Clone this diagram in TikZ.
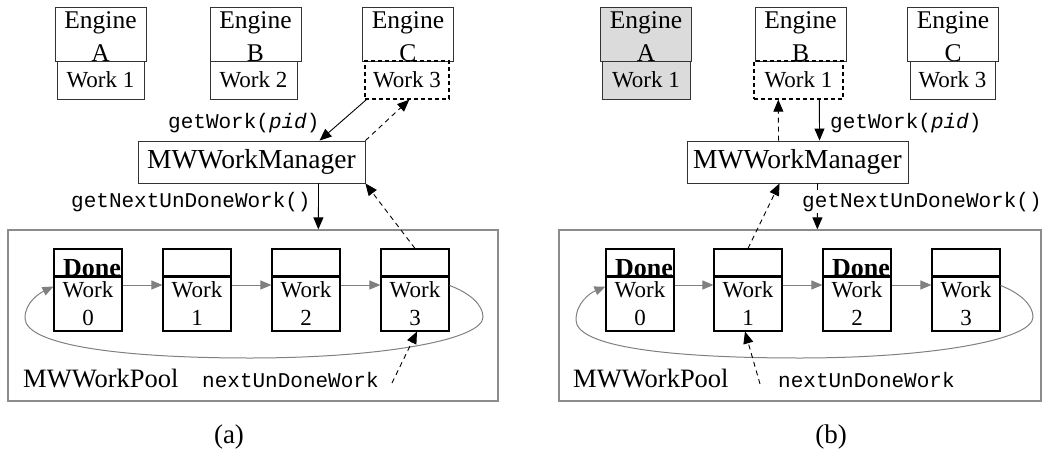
\documentclass[tikz,border=0pt]{standalone}
\usepackage{fontspec}
\setmainfont{Liberation Serif}
\setmonofont{Liberation Mono}
\usetikzlibrary{arrows.meta}
\tikzset{
 boxstyle/.style={draw=black!80, line width=0.9pt, inner sep=0pt, rectangle},
 engbox/.style={boxstyle, minimum width=91pt, minimum height=54pt},
 ewbox/.style={boxstyle, minimum width=87pt, minimum height=38pt, font=\fontsize{23}{28}\selectfont},
 dwbox/.style={ewbox, draw=black, line width=1.4pt, dash pattern=on 4pt off 3pt},
 etxt/.style={inner sep=0pt, anchor=base, font=\fontsize{25.5}{30}\selectfont},
 mgrbox/.style={boxstyle, minimum width=227pt, minimum height=42pt, font=\fontsize{27.5}{30}\selectfont},
 poolbox/.style={draw=black!45, line width=1.3pt, inner sep=0pt, rectangle},
 hbox/.style={draw=black, line width=1.1pt, inner sep=0pt, minimum width=68pt, minimum height=27pt},
 bbox/.style={hbox, minimum height=55pt, align=center, font=\fontsize{23}{28}\selectfont},
 divider/.style={line width=2pt},
 donetxt/.style={inner sep=0pt, anchor=base, font=\fontsize{26}{28}\selectfont\bfseries},
 monotxt/.style={inner sep=0pt, anchor=base west, font=\fontsize{21}{24}\selectfont\ttfamily},
 lbltxt/.style={inner sep=0pt, anchor=base west, font=\fontsize{26.5}{28}\selectfont},
 captxt/.style={inner sep=0pt, anchor=base, font=\fontsize{27}{30}\selectfont},
 arr/.style={line width=0.9pt, -{Triangle[length=12pt,width=10pt]}},
 darr/.style={arr, dash pattern=on 5pt off 4pt},
 garr/.style={draw=black!50, line width=1pt, -{Triangle[length=11pt,width=9pt]}},
}
\begin{document}
\begin{tikzpicture}[x=1pt,y=-1pt]
\useasboundingbox (0,0) rectangle (1042,455);
% ================= (a) =================
\node[poolbox, minimum width=490pt, minimum height=171pt] (aPool) at (253,315.5) {};
% engines
\node[engbox] (aEA) at (100.5,34) {};
\node[engbox] (aEB) at (255.5,34) {};
\node[engbox] (aEC) at (408,34) {};
\node[etxt] (aEAt) at (100.5,28) {Engine};
\node[etxt] (aEAl) at (100.5,61) {A};
\node[etxt] (aEBt) at (255.5,28) {Engine};
\node[etxt] (aEBl) at (255.5,61) {B};
\node[etxt] (aECt) at (408,28) {Engine};
\node[etxt] (aECl) at (408,61) {C};
\node[ewbox] (aWA) at (100.5,80) {Work 1};
\node[ewbox, minimum width=87pt] (aWB) at (253.5,80) {Work 2};
\node[dwbox, minimum width=84pt] (aWC) at (407,80) {Work 3};
% manager
\node[mgrbox] (aMgr) at (251.5,162) {MWWorkManager};
% pool boxes
\foreach \i/\x in {0/88,1/197,2/306,3/415}{
  \node[hbox] (aH\i) at (\x,262.5) {};
  \node[bbox] (aB\i) at (\x,303.5) {Work\\\i};
  \draw[divider] (aH\i.south west) -- (aH\i.south east);
}
\node[donetxt] (aD0) at (92,276) {Done};
\foreach \i/\j in {0/1,1/2,2/3}{
  \draw[garr] ([yshift=18.5pt]aB\i.east) -- ([yshift=18.5pt]aB\j.west);
}
\draw[garr] ([yshift=18pt]aB3.east) .. controls (470,293) and (483,305) .. (483,317)
  .. controls (483,340) and (380,358) .. (250,358)
  .. controls (120,358) and (25,345) .. (25,318)
  .. controls (25,302) and (40,293) .. ([yshift=17pt]aB0.west);
% arrows
\draw[arr] ([xshift=2pt]aWC.south west) -- ([xshift=182pt]aMgr.north west);
\draw[darr] (aMgr.north east) -- ([xshift=45pt]aWC.south west);
\draw[arr] ([xshift=181pt]aMgr.south west) -- ([xshift=311pt]aPool.north west);
\draw[darr] (aH3.north) -- (aMgr.south east);
\coordinate (aNU) at (392,383);
\draw[darr] (aNU) -- ([xshift=2pt]aB3.south);
% labels
\node[monotxt] (aGW) at (168,128) {getWork(\textit{pid})};
\node[monotxt] (aGN) at (71,207) {getNextUnDoneWork()};
\node[lbltxt] (aPL) at (23,387) {MWWorkPool};
\node[monotxt] (aNL) at (202,387) {nextUnDoneWork};
\node[captxt] (aCap) at (229,443) {(a)};
% ================= (b) =================
\node[poolbox, minimum width=482pt, minimum height=171pt] (bPool) at (800,315.5) {};
\node[engbox, fill=black!14] (bEA) at (646,34) {};
\node[engbox] (bEB) at (800.5,34) {};
\node[engbox] (bEC) at (953,34) {};
\node[etxt] (bEAt) at (646,28) {Engine};
\node[etxt] (bEAl) at (646,61) {A};
\node[etxt] (bEBt) at (800.5,28) {Engine};
\node[etxt] (bEBl) at (800.5,61) {B};
\node[etxt] (bECt) at (953,28) {Engine};
\node[etxt] (bECl) at (953,61) {C};
\node[ewbox, fill=black!14, minimum width=88pt] (bWA) at (646,80) {Work 1};
\node[dwbox, minimum width=89pt] (bWB) at (798.5,80) {Work 1};
\node[ewbox, minimum width=85pt] (bWC) at (952.5,80) {Work 3};
\node[mgrbox, minimum width=221pt] (bMgr) at (797.5,162) {MWWorkManager};
\foreach \i/\x in {0/640,1/748,2/857,3/966}{
  \node[hbox] (bH\i) at (\x,262.5) {};
  \node[bbox] (bB\i) at (\x,303.5) {Work\\\i};
  \draw[divider] (bH\i.south west) -- (bH\i.south east);
}
\node[donetxt] (bD0) at (644,276) {Done};
\node[donetxt] (bD2) at (861,276) {Done};
\foreach \i/\j in {0/1,1/2,2/3}{
  \draw[garr] ([yshift=18.5pt]bB\i.east) -- ([yshift=18.5pt]bB\j.west);
}
\draw[garr] ([yshift=18pt]bB3.east) .. controls (1020,293) and (1033,305) .. (1033,317)
  .. controls (1033,340) and (930,358) .. (800,358)
  .. controls (670,358) and (576,347) .. (576,320)
  .. controls (576,303) and (590,293) .. ([yshift=17pt]bB0.west);
\draw[arr] ([xshift=66pt]bWB.south west) -- ([xshift=133pt]bMgr.north west);
\draw[darr] ([xshift=92pt]bMgr.north west) -- ([xshift=25pt]bWB.south west);
\draw[arr] ([xshift=131pt]bMgr.south west) -- ([xshift=259pt]bPool.north west);
\draw[darr] (bH1.north) -- ([xshift=93pt]bMgr.south west);
\coordinate (bNU) at (760,384);
\draw[darr] (bNU) -- ([xshift=-3pt]bB1.south);
\node[monotxt] (bGW) at (830,128) {getWork(\textit{pid})};
\node[monotxt, fill=white, inner ysep=2pt] (bGN) at (802,207) {getNextUnDoneWork()};
\node[lbltxt] (bPL) at (573,387) {MWWorkPool};
\node[monotxt] (bNL) at (778,387) {nextUnDoneWork};
\node[captxt] (bCap) at (831,443) {(b)};
\end{tikzpicture}
\end{document}
